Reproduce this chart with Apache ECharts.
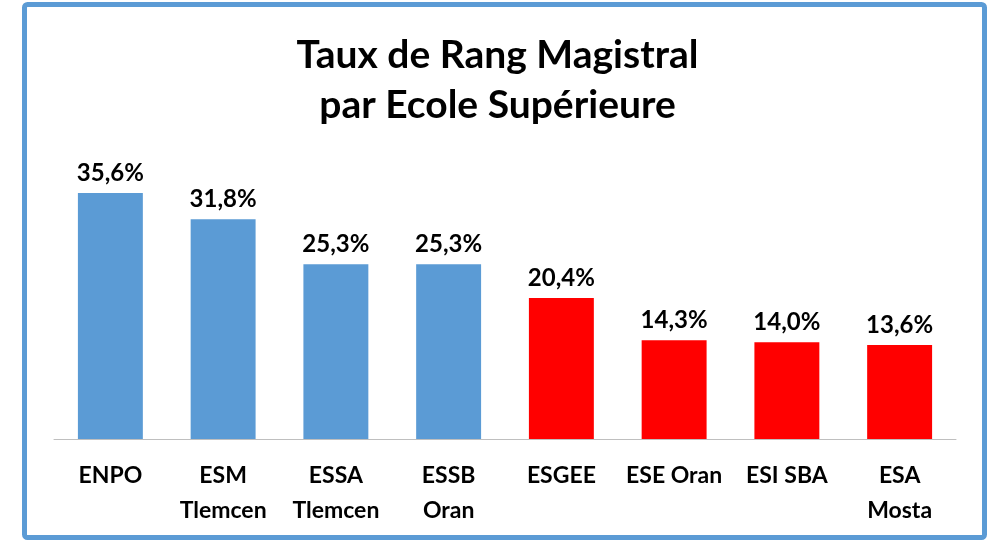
<!DOCTYPE html>
<html>
<head>
	<meta charset="UTF-8">
	<title>Taux de Rang Magistral</title>
	<style type="text/css">
		html, body { margin: 0; padding: 0; background: #fff; }
		#main { width: 995px; height: 541px; }
	</style>
	<script src="https://cdn.jsdelivr.net/npm/echarts@6/dist/echarts.min.js"></script>
</head>
<body>
	<div id="main"></div>
	<script>
		var categories = ['ENPO', 'ESM\nTlemcen', 'ESSA\nTlemcen', 'ESSB\nOran', 'ESGEE', 'ESE Oran', 'ESI SBA', 'ESA\nMosta'];
		var values = [35.6, 31.8, 25.3, 25.3, 20.4, 14.3, 14.0, 13.6];
		var barColors = ['#5B9BD5', '#5B9BD5', '#5B9BD5', '#5B9BD5', '#FF0000', '#FF0000', '#FF0000', '#FF0000'];

		var chart = echarts.init(document.getElementById('main'));
		var font = 'Lato, "Noto Sans", sans-serif';

		var option = {
			animation: false,
			backgroundColor: '#fff',
			title: {
				text: 'Taux de Rang Magistral\npar Ecole Supérieure',
				left: 'center',
				top: 25,
				textStyle: {
					fontFamily: font,
					fontWeight: 'bold',
					fontSize: 39,
					lineHeight: 50,
					color: '#000'
				}
			},
			// cadre bleu autour du graphique
			graphic: [{
				type: 'rect',
				shape: { x: 24.5, y: 4.5, width: 960, height: 533, r: 3 },
				style: { fill: 'none', stroke: '#5B9BD5', lineWidth: 5 },
				z: 10
			}],
			grid: { left: 54, right: 39, top: 93.5, bottom: 102 },
			xAxis: {
				type: 'category',
				data: categories,
				axisLine: { show: true, lineStyle: { color: '#BFBFBF', width: 1 } },
				axisTick: { show: false },
				axisLabel: {
					interval: 0,
					margin: 19,
					fontFamily: font,
					fontWeight: 'bold',
					fontSize: 23,
					lineHeight: 35,
					color: '#000'
				}
			},
			yAxis: {
				type: 'value',
				min: 0,
				max: 50,
				show: false,
				splitLine: { show: false }
			},
			series: [{
				type: 'bar',
				barWidth: '57.6%',
				data: values.map(function (v, i) {
					return { value: v, itemStyle: { color: barColors[i] } };
				}),
				label: {
					show: true,
					position: 'top',
					distance: 8,
					fontFamily: font,
					fontWeight: 'bold',
					fontSize: 24,
					color: '#000',
					formatter: function (p) {
						return p.value.toFixed(1).replace('.', ',') + '%';
					}
				}
			}]
		};

		chart.setOption(option);
	</script>
</body>
</html>
